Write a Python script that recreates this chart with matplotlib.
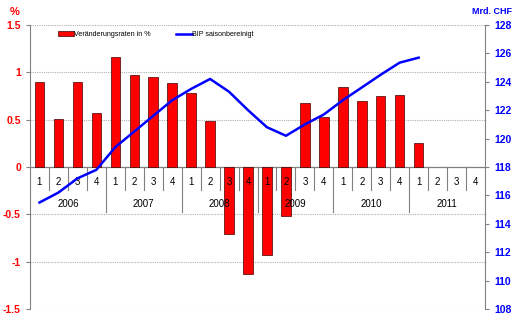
import matplotlib
matplotlib.use("Agg")
import matplotlib.pyplot as plt
from matplotlib.lines import Line2D
from matplotlib.patches import Patch

plt.rcParams['font.family'] = ['Liberation Sans', 'DejaVu Sans']

years = ["2006", "2007", "2008", "2009", "2010", "2011"]
quarters = ["1", "2", "3", "4"]
# quarterly change in %
rates = [0.90, 0.51, 0.90, 0.57,
         1.16, 0.97, 0.95, 0.89,
         0.78, 0.49, -0.71, -1.13,
         -0.93, -0.52, 0.68, 0.53,
         0.84, 0.70, 0.75, 0.76,
         0.25]
# GDP seasonally adjusted, bn CHF
bip = [115.5, 116.2, 117.2, 117.8,
       119.4, 120.5, 121.6, 122.7,
       123.5, 124.2, 123.3, 122.0,
       120.8, 120.2, 121.0, 121.7,
       122.7, 123.6, 124.5, 125.35,
       125.7]

red = "#ff0000"
blue = "#0000ff"

fig = plt.figure(figsize=(5.15, 3.22), dpi=100)
ax = fig.add_axes([30/515, 1-309/322, 455/515, 284/322])
ax2 = ax.twinx()

n = len(years) * len(quarters)
x = list(range(len(rates)))

ax.bar(x, rates, width=0.5, color=red, edgecolor="#400000", linewidth=0.5, zorder=2)
ax.set_xlim(-0.5, n - 0.5)
ax.set_ylim(-1.5, 1.5)
ax.set_yticks([-1.5, -1, -0.5, 0, 0.5, 1, 1.5])
ax.set_yticklabels(["-1.5", "-1", "-0.5", "0", "0.5", "1", "1.5"])
ax.tick_params(axis="y", colors="#808080", labelcolor=red, labelsize=7.5, length=3, width=0.8)
for lab in ax.get_yticklabels():
    lab.set_fontweight("bold")
ax.set_xticks([])
for yv in [-1.5, -1, -0.5, 0.5, 1, 1.5]:
    ax.axhline(yv, color="#b0b0b0", linestyle=(0, (1, 1)), linewidth=0.8, zorder=0)
ax.axhline(0, color="#808080", linewidth=0.9, zorder=1)
for s in ["top", "bottom", "right"]:
    ax.spines[s].set_visible(False)
ax.spines["left"].set_color("#808080")

# category axis with quarters and years
for i in range(n):
    ax.text(i, -0.155, quarters[i % 4], ha="center", va="center", fontsize=7, zorder=5)
for k in range(1, n):
    bottom = -0.475 if k % 4 == 0 else -0.245
    ax.plot([k - 0.5, k - 0.5], [0, bottom], color="#808080", linewidth=0.8, zorder=1)
for j, yr in enumerate(years):
    ax.text(j * 4 + 1.5, -0.39, yr, ha="center", va="center", fontsize=7, zorder=5)

ax2.plot(x, bip, color=blue, linewidth=1.8, zorder=3)
ax2.set_ylim(108, 128)
ax2.set_yticks(range(108, 129, 2))
ax2.tick_params(axis="y", colors="#808080", labelcolor=blue, labelsize=7.5, length=3, width=0.8)
for lab in ax2.get_yticklabels():
    lab.set_fontweight("bold")
for s in ["top", "bottom", "left"]:
    ax2.spines[s].set_visible(False)
ax2.spines["right"].set_color("#808080")

fig.text(15/515, 1-12/322, "%", color=red, fontsize=8, fontweight="bold", ha="center", va="center")
fig.text(492/515, 1-12/322, "Mrd. CHF", color=blue, fontsize=6.5, fontweight="bold", ha="center", va="center")

handles = [Patch(facecolor=red, edgecolor="#400000", linewidth=0.5),
           Line2D([], [], color=blue, linewidth=1.8)]
ax2.legend(handles, ["Veränderungsraten in %", "BIP saisonbereinigt"], loc="center left",
           bbox_to_anchor=(28/455, (309-34.5)/284), ncol=2, frameon=False, fontsize=5.1,
           borderpad=0, borderaxespad=0,
           handlelength=2.2, handleheight=0.55, handletextpad=0.05, columnspacing=3.6)

fig.savefig("out.png", dpi=100)
